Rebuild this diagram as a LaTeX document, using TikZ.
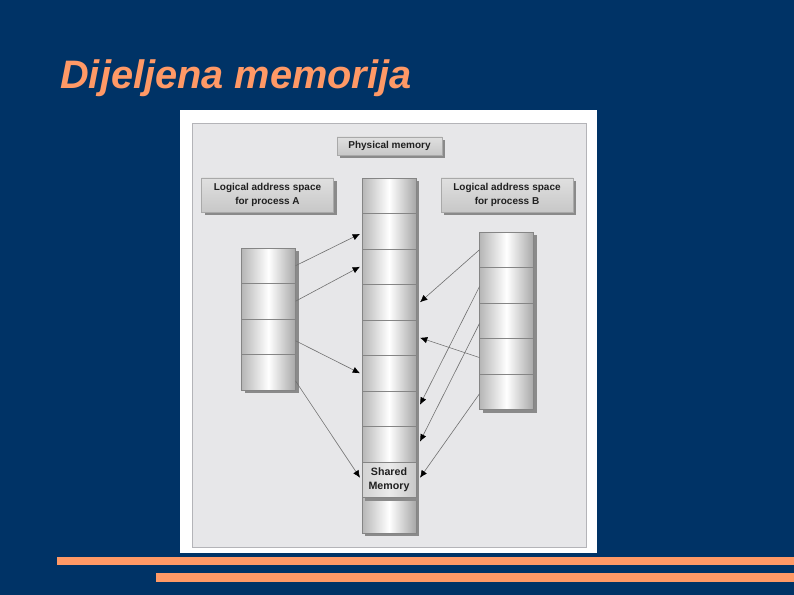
\documentclass[tikz,border=0pt]{standalone}
\usepackage{fontspec}
\setmainfont{Liberation Sans}
\usetikzlibrary{arrows.meta,shadows}
\definecolor{navy}{HTML}{003366}
\definecolor{salmon}{HTML}{FF9966}
\definecolor{panelgray}{HTML}{E7E7E9}
\definecolor{framegray}{HTML}{B4B4B8}
\definecolor{cellgray}{HTML}{B6B6B6}
\definecolor{linegray}{HTML}{707070}
\definecolor{shadowgray}{HTML}{8A8A8A}
\definecolor{labelgray}{HTML}{D2D2D2}
\definecolor{inkgray}{HTML}{202020}
\tikzset{
  cell/.style={draw=linegray!85, line width=.6pt, minimum width=40.5pt, minimum height=26.6pt,
    inner sep=0pt, outer sep=0pt, left color=cellgray, right color=cellgray!92!black, middle color=white,
    drop shadow={shadow xshift=2.6pt, shadow yshift=-2.6pt, fill=shadowgray, opacity=1}},
  shared/.style={cell, left color=labelgray, right color=labelgray!95!black, middle color=labelgray!45,
    font=\fontsize{8pt}{10.5pt}\selectfont\bfseries, text=inkgray, align=center},
  caption/.style={draw=linegray!60, line width=.3pt, top color=labelgray!70, bottom color=labelgray!95!black,
    inner sep=0pt, font=\fontsize{7.5pt}{10.5pt}\selectfont\bfseries, text=inkgray, align=center,
    drop shadow={shadow xshift=2.3pt, shadow yshift=-2.3pt, fill=shadowgray, opacity=1}},
  arr/.style={-{Latex[length=5.5pt,width=4.8pt,color=black]}, draw=linegray, line width=.45pt}
}
\begin{document}
\begin{tikzpicture}[x=0.75pt,y=-0.75pt]
  \useasboundingbox (0,0) rectangle (794,595);
  \fill[navy] (0,0) rectangle (794,595);
  \node[anchor=base west, text=salmon, font=\fontsize{29.8pt}{34pt}\selectfont\bfseries\itshape, inner sep=0pt]
    (title) at (60,89) {Dijeljena memorija};
  \fill[salmon] (57,557) rectangle (794,565);
  \fill[salmon] (156,573) rectangle (794,582);

  % figure panel
  \fill[white] (180,110) rectangle (597,553);
  \draw[framegray, fill=panelgray, line width=.5pt] (192,123) rectangle (586,547);

  \node[caption, minimum width=78.75pt, minimum height=13.5pt] (physlbl) at (389.5,146) {Physical memory};
  \node[caption, minimum width=99pt, minimum height=25.5pt] (alb) at (267.5,195) {Logical address space\\for process A};
  \node[caption, minimum width=99pt, minimum height=25.5pt] (blb) at (507,195) {Logical address space\\for process B};

  % physical memory column
  \foreach \i in {1,...,8,10}
    \node[cell] (p\i) at (389,{160.25+35.5*\i}) {};
  \node[shared] (p9) at (389,{160.25+35.5*9}) {Shared\\Memory};

  % process A and process B
  \foreach \i in {1,...,4}
    \node[cell] (a\i) at (268.5,{230.25+35.5*\i}) {};
  \foreach \i in {1,...,5}
    \node[cell] (b\i) at (506.5,{214.25+35.5*\i}) {};

  \draw[arr] (a1.east) -- ([xshift=-1.5pt,yshift=-2pt]p2.west);
  \draw[arr] (a2.east) -- ([xshift=-1.5pt]p3.west);
  \draw[arr] ([yshift=-3pt]a3.east) -- ([xshift=-1.5pt]p6.west);
  \draw[arr] ([yshift=-6.5pt]a4.east) -- ([xshift=-1.5pt,yshift=1.5pt]p9.west);

  \draw[arr] (b1.west) -- ([xshift=3pt]p4.east);
  \draw[arr] ([yshift=-1pt]b2.west) -- ([xshift=3pt,yshift=3pt]p7.east);
  \draw[arr] ([yshift=-2pt]b3.west) -- ([xshift=3pt,yshift=2pt]p8.east);
  \draw[arr] ([yshift=-1pt]b4.west) -- ([xshift=3pt]p5.east);
  \draw[arr] ([yshift=-1.5pt]b5.west) -- ([xshift=3pt,yshift=1.5pt]p9.east);
\end{tikzpicture}
\end{document}
